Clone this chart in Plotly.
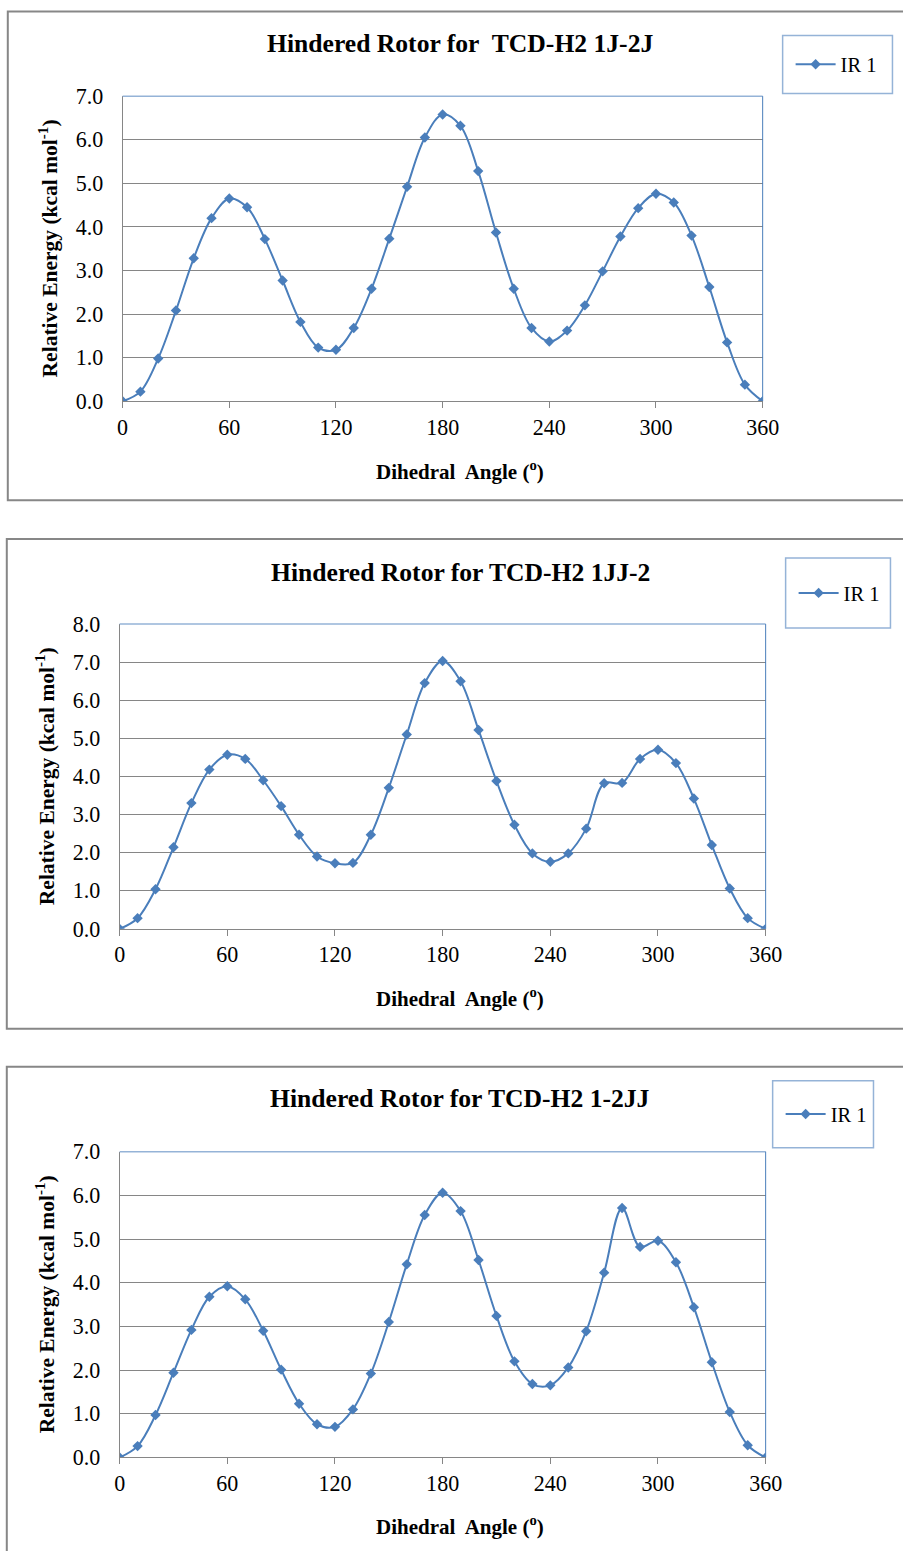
import plotly.graph_objects as go

angles = list(range(0, 361, 10))

energy_1j_2j = [0.0, 0.22, 0.98, 2.08, 3.28, 4.20, 4.65, 4.45, 3.72, 2.77,
                1.82, 1.23, 1.18, 1.68, 2.58, 3.73, 4.92, 6.05, 6.58, 6.32,
                5.28, 3.87, 2.58, 1.68, 1.37, 1.62, 2.20, 2.98, 3.78, 4.43,
                4.76, 4.56, 3.80, 2.62, 1.35, 0.38, 0.0]

energy_1jj_2 = [0.0, 0.28, 1.04, 2.14, 3.30, 4.18, 4.57, 4.46, 3.90, 3.22,
                2.47, 1.90, 1.72, 1.73, 2.47, 3.70, 5.10, 6.45, 7.03, 6.50,
                5.22, 3.88, 2.73, 1.98, 1.76, 1.98, 2.63, 3.82, 3.83, 4.46,
                4.70, 4.35, 3.42, 2.20, 1.06, 0.28, 0.0]

energy_1_2jj = [0.0, 0.26, 0.97, 1.94, 2.92, 3.68, 3.92, 3.62, 2.90, 2.01,
                1.23, 0.76, 0.70, 1.10, 1.92, 3.10, 4.42, 5.55, 6.06, 5.64,
                4.52, 3.24, 2.20, 1.68, 1.65, 2.06, 2.89, 4.23, 5.71, 4.82,
                4.96, 4.47, 3.44, 2.18, 1.04, 0.28, 0.0]

titles = ["Hindered Rotor for\u00a0 TCD-H2 1J-2J",
          "Hindered Rotor for TCD-H2 1JJ-2",
          "Hindered Rotor for TCD-H2 1-2JJ"]
series_name = "IR 1"
x_ticks = [0, 60, 120, 180, 240, 300, 360]
y_max = [7, 8, 7]
x_title = "Dihedral\u00a0 Angle (<sup>o</sup>)"
y_title = "Relative Energy (kcal mol<sup>-1</sup>)"

W, H = 903, 1551
# calibration of the photographed page (measured): screen = s*page + c
SX, CX = 0.976, 5.2
SY, CY = 0.9846, 11.5
def px(x):
    return ((x - CX) / SX) / W
def py(y):
    return 1 - ((y - CY) / SY) / H
K = 1 / SX  # font scale compensation

BLUE = "#4A7EBB"
GRID = "#868686"
FONT = "Liberation Serif, Times New Roman, serif"

# target screen geometry per panel (pixels in the reference)
panels = [
    dict(x0=122, x1=763, ytop=95.7, ybot=401, title_y=43, xt_y=470, yt_x=48,
         box=(7, 11, 1000, 500), leg=(783, 35, 893, 93)),
    dict(x0=119, x1=766, ytop=624, ybot=929, title_y=572, xt_y=998, yt_x=45,
         box=(6, 539, 1000, 1029), leg=(786, 558, 891, 628)),
    dict(x0=119, x1=766, ytop=1152, ybot=1458, title_y=1099, xt_y=1526, yt_x=45,
         box=(6, 1067, 1000, 1700), leg=(773, 1081, 874, 1148)),
]

data_sets = [energy_1j_2j, energy_1jj_2, energy_1_2jj]

fig = go.Figure()
shapes = []
annotations = []
layout = dict(width=W, height=H, margin=dict(l=0, r=0, t=0, b=0),
              paper_bgcolor="white", plot_bgcolor="white",
              font=dict(family=FONT, size=20, color="black"))

for i, (p, ys) in enumerate(zip(panels, data_sets)):
    n = "" if i == 0 else str(i + 1)
    leg = "legend" if i == 0 else f"legend{i+1}"
    fig.add_trace(go.Scatter(
        x=angles, y=ys, name=series_name, mode="lines+markers",
        line=dict(color=BLUE, width=2, shape="spline", smoothing=1.0),
        marker=dict(symbol="diamond", size=8, color=BLUE),
        xaxis=f"x{n}", yaxis=f"y{n}", legend=leg, showlegend=True))

    layout[f"xaxis{n}"] = dict(
        domain=[px(p["x0"]), px(p["x1"])], anchor=f"y{n}",
        range=[0, 360], tickvals=x_ticks, ticktext=[str(v) for v in x_ticks],
        showgrid=False, zeroline=False, showline=True, linecolor=GRID, linewidth=1,
        ticks="outside", ticklen=6, tickcolor=GRID,
        tickfont=dict(family=FONT, size=21.5 * K), fixedrange=True)
    layout[f"yaxis{n}"] = dict(
        domain=[py(p["ybot"]), py(p["ytop"])], anchor=f"x{n}",
        range=[0, y_max[i]], dtick=1, tick0=0, tickformat=".1f",
        showgrid=True, gridcolor=GRID, gridwidth=1, zeroline=False,
        showline=True, linecolor=GRID, linewidth=1, ticks="",
        ticklabelstandoff=14,
        tickfont=dict(family=FONT, size=21.5 * K), fixedrange=True)

    shapes.append(dict(type="line", xref=f"x{n} domain", yref=f"y{n} domain",
                       x0=0, x1=1, y0=1, y1=1, line=dict(color="#95B3D7", width=1.5)))
    shapes.append(dict(type="line", xref=f"x{n} domain", yref=f"y{n} domain",
                       x0=1, x1=1, y0=0, y1=1, line=dict(color=BLUE, width=1)))
    bx0, by0, bx1, by1 = p["box"]
    shapes.append(dict(type="rect", xref="paper", yref="paper",
                       x0=px(bx0), x1=px(bx1), y0=py(by1), y1=py(by0),
                       line=dict(color="#878787", width=2), layer="below"))
    lx0, ly0, lx1, ly1 = p["leg"]
    shapes.append(dict(type="rect", xref="paper", yref="paper",
                       x0=px(lx0), x1=px(lx1), y0=py(ly1), y1=py(ly0),
                       line=dict(color="#95B3D7", width=1.5)))
    layout[leg] = dict(
        x=px(lx0 + 8), y=py((ly0 + ly1) / 2), xanchor="left", yanchor="middle",
        bgcolor="rgba(0,0,0,0)", borderwidth=0,
        font=dict(family=FONT, size=20 * K, color="black"), itemwidth=40)

    annotations.append(dict(text=f"<b>{titles[i]}</b>", xref="paper", yref="paper",
                            x=px(460), y=py(p["title_y"]), xanchor="center", yanchor="middle",
                            showarrow=False, font=dict(family=FONT, size=25 * K)))
    annotations.append(dict(text=f"<b>{x_title}</b>", xref="paper", yref="paper",
                            x=px(460), y=py(p["xt_y"]), xanchor="center", yanchor="middle",
                            showarrow=False, font=dict(family=FONT, size=20.5 * K)))
    annotations.append(dict(text=f"<b>{y_title}</b>", xref="paper", yref="paper",
                            x=px(p["yt_x"]), y=py((p["ytop"] + p["ybot"]) / 2),
                            xanchor="center", yanchor="middle", textangle=-90,
                            showarrow=False, font=dict(family=FONT, size=21 * K)))

layout["shapes"] = shapes
layout["annotations"] = annotations
fig.update_layout(**layout)
fig.write_html("out.html", config={"displayModeBar": False},
               post_script=("document.documentElement.style.margin='0';"
                            "document.documentElement.style.overflow='hidden';"
                            "document.body.style.margin='0';"
                            "document.body.style.overflow='hidden';"))
